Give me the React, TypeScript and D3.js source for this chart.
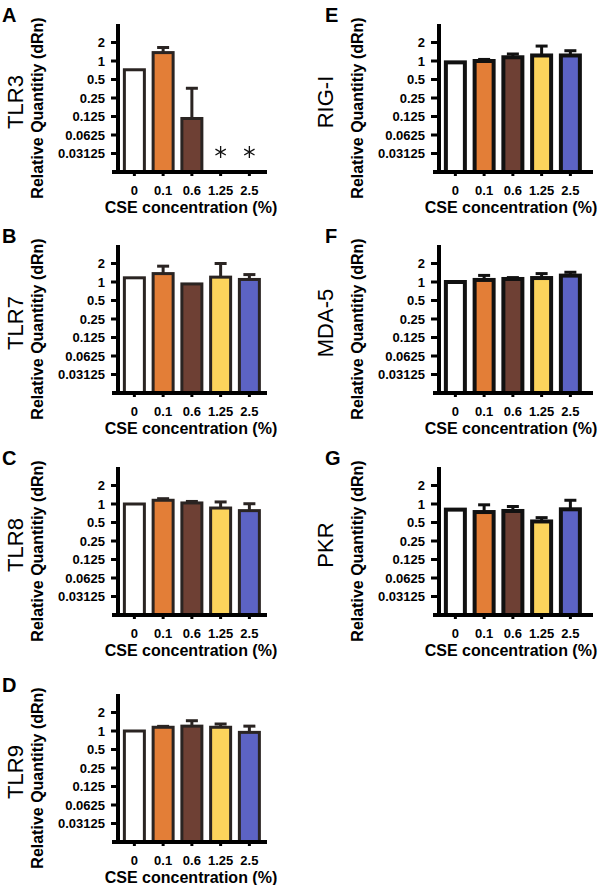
import * as d3 from "d3";

// x categories (CSE %) and log2 y ticks
const categories = ["0", "0.1", "0.6", "1.25", "2.5"];
const yTickValues = [2, 1, 0.5, 0.25, 0.125, 0.0625, 0.03125];
const yTickLabels = ["2", "1", "0.5", "0.25", "0.125", "0.0625", "0.03125"];
const barFills = ["#ffffff", "#e37e37", "#6e4034", "#fcd45c", "#5c63c4"];

const geneNames = ["TLR3", "TLR7", "TLR8", "TLR9", "RIG-I", "MDA-5", "PKR"];
const panelLetters = ["A", "B", "C", "D", "E", "F", "G"];

// bar heights (mean) and top of error bar, null = nothing drawn
const tlr3Mean = [0.72, 1.37, 0.116, null, null];
const tlr3Upper = [null, 1.66, 0.36, null, null];
const tlr3Asterisks = ["1.25", "2.5"];

const tlr7Mean = [1.17, 1.37, 0.93, 1.2, 1.1];
const tlr7Upper = [null, 1.81, null, 2.0, 1.32];

const tlr8Mean = [1.0, 1.15, 1.04, 0.86, 0.78];
const tlr8Upper = [null, 1.22, 1.1, 1.08, 1.01];

const tlr9Mean = [1.0, 1.15, 1.2, 1.15, 0.95];
const tlr9Upper = [null, 1.19, 1.47, 1.3, 1.2];

const rigMean = [0.95, 1.0, 1.15, 1.23, 1.23];
const rigUpper = [null, 1.06, 1.3, 1.75, 1.47];

const mdaMean = [1.0, 1.08, 1.12, 1.16, 1.27];
const mdaUpper = [null, 1.28, 1.18, 1.37, 1.44];

const pkrMean = [0.81, 0.74, 0.77, 0.52, 0.82];
const pkrUpper = [null, 0.97, 0.91, 0.6, 1.15];

const means = [tlr3Mean, tlr7Mean, tlr8Mean, tlr9Mean, rigMean, mdaMean, pkrMean];
const uppers = [tlr3Upper, tlr7Upper, tlr8Upper, tlr9Upper, rigUpper, mdaUpper, pkrUpper];
const asterisks = [tlr3Asterisks, [], [], [], [], [], []];

const W = 600;
const H = 885;
const font = "'Liberation Sans', Arial, Helvetica, sans-serif";
const rowOffsets = [0, 221, 443, 670];

const columns = [
  { ox: 0, axisX: 118, axisLen: 149, letterX: 2, geneX: 23, stroke: "#2a2422", sw: 3 },
  { ox: 320, axisX: 439, axisLen: 154, letterX: 325, geneX: 333, stroke: "#111111", sw: 4 },
];

function Panel({ idx }) {
  const colIdx = idx < 4 ? 0 : 1;
  const col = columns[colIdx];
  const oy = rowOffsets[colIdx === 0 ? idx : idx - 4];
  const ox = col.ox;
  const top = oy + 24;
  const base = oy + 172;

  const y = d3.scaleLog().base(2).domain([1 / 64, 4]).range([base, top]);
  const x = d3
    .scaleBand()
    .domain(categories)
    .range([col.axisX + 2, col.axisX + 2 + 5 * 28.75]);
  const cx = (c) => x(c) + x.bandwidth() / 2;
  const barW = 23 - col.sw;
  const star = d3.symbol(d3.symbolAsterisk, 100)();

  const m = means[idx];
  const u = uppers[idx];

  return (
    <g>
      <text x={col.letterX} y={oy + 22} fontSize={20} fontWeight="bold" fontFamily={font}>
        {panelLetters[idx]}
      </text>
      <text
        transform={`translate(${col.geneX},${oy + 102}) rotate(-90)`}
        textAnchor="middle"
        fontSize={22}
        fontFamily={font}
      >
        {geneNames[idx]}
      </text>
      <text
        transform={`translate(${ox + 43},${oy + 108}) rotate(-90)`}
        textAnchor="middle"
        fontSize={16}
        fontWeight="bold"
        fontFamily={font}
      >
        Relative Quantitiy (dRn)
      </text>

      {/* bars */}
      {categories.map((c, i) =>
        m[i] == null ? null : (
          <rect
            key={c}
            x={cx(c) - barW / 2}
            y={y(m[i])}
            width={barW}
            height={base - y(m[i])}
            fill={barFills[i]}
            stroke={col.stroke}
            strokeWidth={col.sw}
          />
        )
      )}

      {/* error bars */}
      {categories.map((c, i) =>
        u[i] == null || m[i] == null ? null : (
          <g key={"e" + c} stroke={col.stroke} strokeWidth={3}>
            <line x1={cx(c)} x2={cx(c)} y1={y(m[i])} y2={y(u[i])} />
            <line x1={cx(c) - 6} x2={cx(c) + 6} y1={y(u[i])} y2={y(u[i])} />
          </g>
        )
      )}

      {asterisks[idx].map((c) => (
        <path
          key={"s" + c}
          d={star}
          transform={`translate(${cx(c)},${y(0.033)})`}
          fill="none"
          stroke="#111"
          strokeWidth={1.3}
        />
      ))}

      {/* y axis */}
      <line x1={col.axisX} x2={col.axisX} y1={top} y2={base + 2} stroke="#000" strokeWidth={4} />
      {yTickValues.map((t, i) => (
        <g key={"yt" + t}>
          <line x1={ox + 111} x2={col.axisX} y1={y(t)} y2={y(t)} stroke="#000" strokeWidth={3} />
          <text
            x={ox + 105}
            y={y(t) + 4.6}
            textAnchor="end"
            fontSize={13}
            fontWeight="bold"
            fontFamily={font}
          >
            {yTickLabels[i]}
          </text>
        </g>
      ))}

      {/* x axis */}
      <line
        x1={col.axisX - 6}
        x2={col.axisX + col.axisLen}
        y1={base}
        y2={base}
        stroke="#000"
        strokeWidth={4}
      />
      {categories.map((c) => (
        <g key={"xt" + c}>
          <line x1={cx(c)} x2={cx(c)} y1={base} y2={base + 4} stroke="#000" strokeWidth={3} />
          <text x={cx(c)} y={oy + 195} textAnchor="middle" fontSize={13} fontWeight="bold" fontFamily={font}>
            {c}
          </text>
        </g>
      ))}
      <text x={ox + 191} y={oy + 212.5} textAnchor="middle" fontSize={16} fontWeight="bold" fontFamily={font}>
        CSE concentration (%)
      </text>
    </g>
  );
}

export default function App() {
  return (
    <svg
      width={W}
      height={H}
      viewBox={`0 0 ${W} ${H}`}
      style={{ position: "absolute", left: 0, top: 0, background: "#fff" }}
    >
      <rect width={W} height={H} fill="#fff" />
      {geneNames.map((g, i) => (
        <Panel key={g} idx={i} />
      ))}
    </svg>
  );
}
